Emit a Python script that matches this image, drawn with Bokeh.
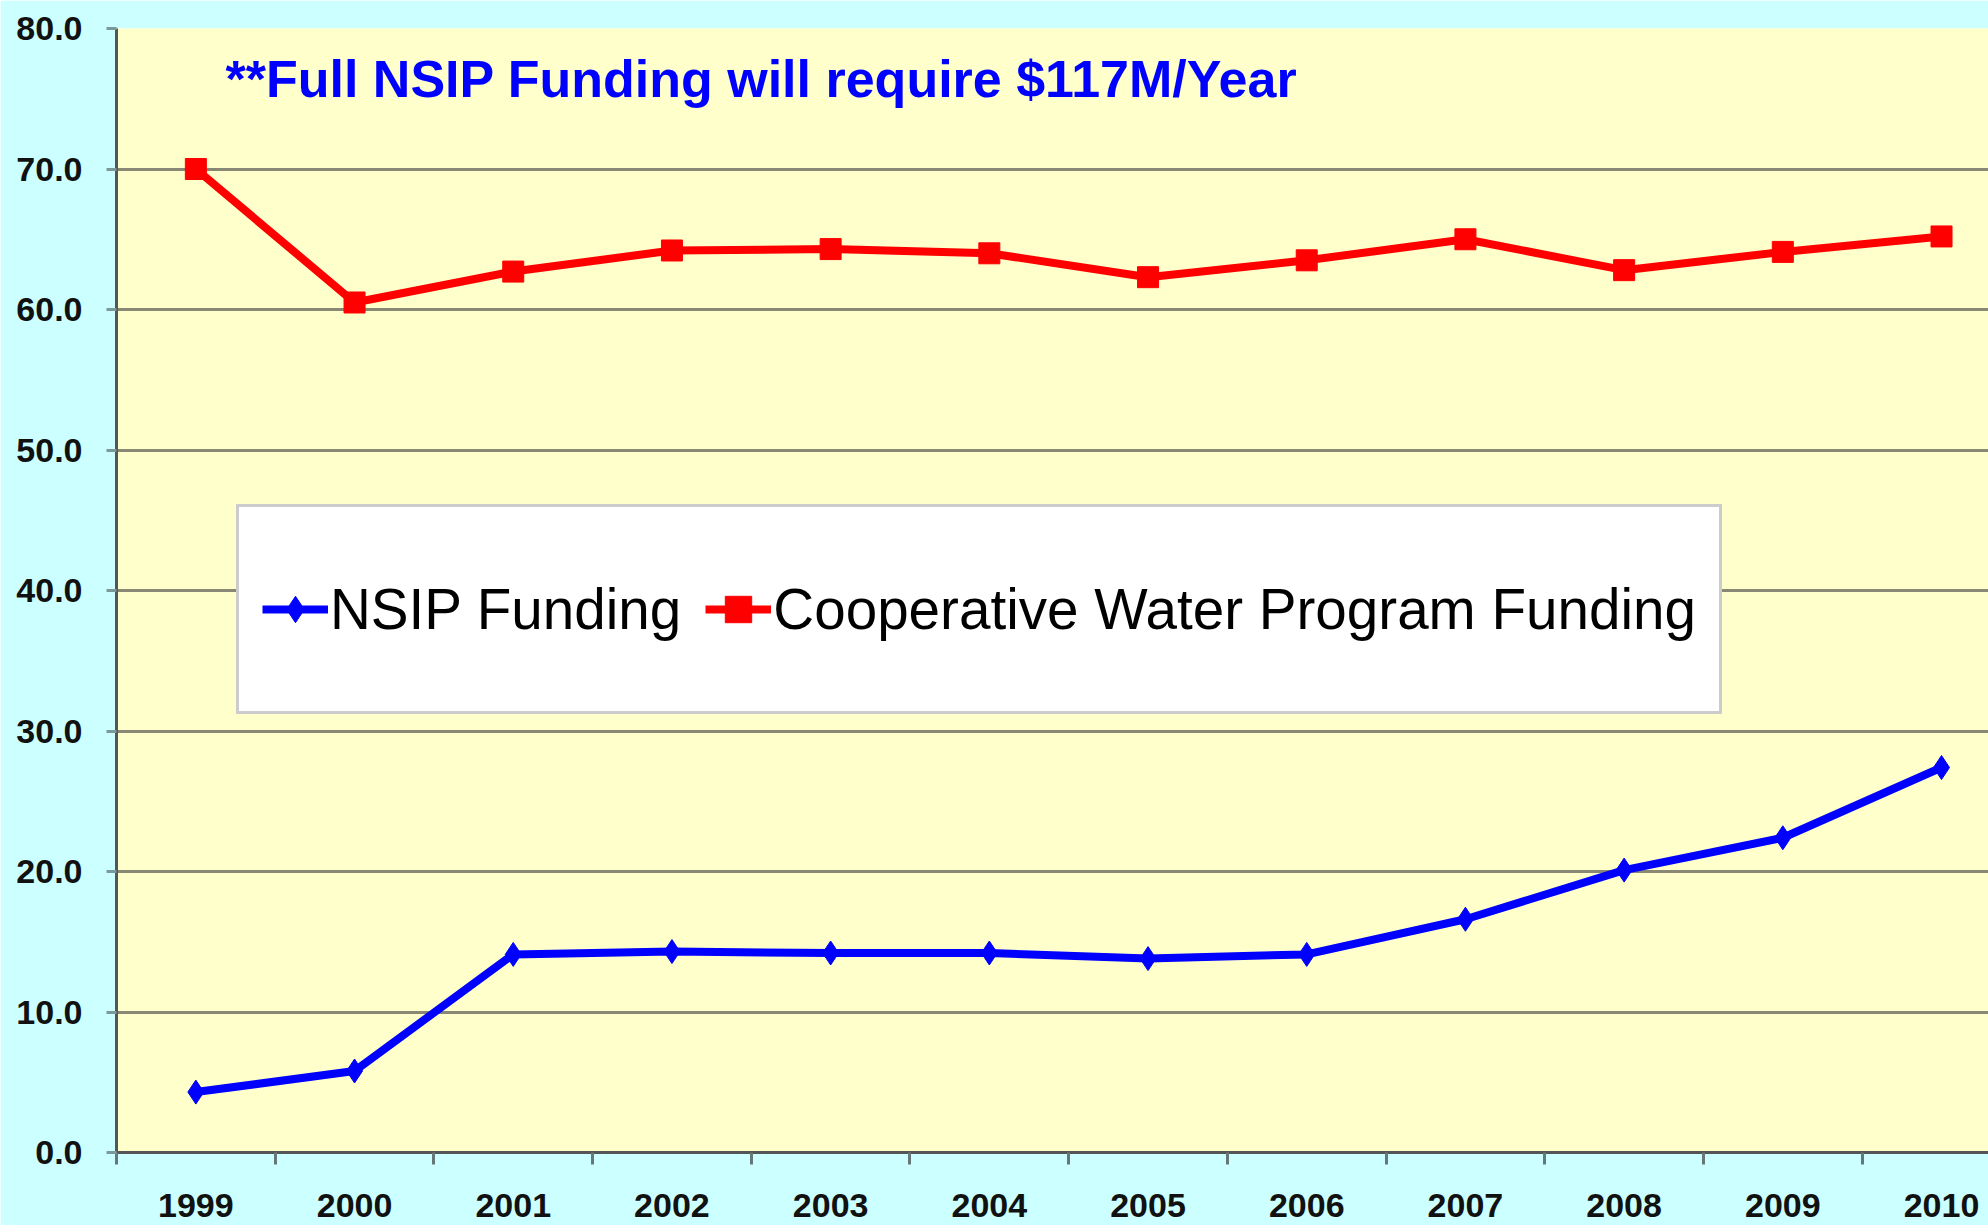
from bokeh.plotting import figure
from bokeh.models import FixedTicker, PrintfTickFormatter, Label, Range1d
from bokeh.embed import file_html
from bokeh.resources import INLINE

years = [1999, 2000, 2001, 2002, 2003, 2004, 2005, 2006, 2007, 2008, 2009, 2010]
year_labels = [str(y) for y in years]
nsip = [4.3, 5.8, 14.1, 14.3, 14.2, 14.2, 13.8, 14.1, 16.6, 20.1, 22.4, 27.4]
coop = [70.0, 60.5, 62.7, 64.2, 64.3, 64.0, 62.3, 63.5, 65.0, 62.8, 64.1, 65.2]
y_ticks = [0, 10, 20, 30, 40, 50, 60, 70, 80]
note_text = "**Full NSIP Funding will require $117M/Year"

FONT = "Liberation Sans"

p = figure(width=1988, height=1225,
           x_range=Range1d(1998.5, 2010.296), y_range=Range1d(0, 80),
           output_backend="svg", toolbar_location=None,
           min_border_left=116, min_border_right=0,
           min_border_top=28, min_border_bottom=73,
           background_fill_color="#FFFFCC", border_fill_color="#CCFFFF",
           outline_line_color=None)

p.line(years, nsip, line_color="#0000FF", line_width=8, legend_label="NSIP Funding")
p.scatter(years, nsip, marker="diamond", size=24, color="#0000FF", legend_label="NSIP Funding")
p.line(years, coop, line_color="#FF0000", line_width=8, legend_label="Cooperative Water Program Funding")
p.scatter(years, coop, marker="square", size=21, color="#FF0000", legend_label="Cooperative Water Program Funding")

# x axis: labels at centers, tick marks at category boundaries
bounds = [y - 0.5 for y in years] + [years[-1] + 0.5]
p.xaxis.ticker = FixedTicker(ticks=years, minor_ticks=bounds)
p.xaxis.major_label_overrides = {y: l for y, l in zip(years, year_labels)}
p.xaxis.major_tick_out = 0
p.xaxis.major_tick_in = 0
p.xaxis.minor_tick_out = 12
p.xaxis.minor_tick_in = 0
p.xaxis.minor_tick_line_color = "#667777"
p.xaxis.minor_tick_line_width = 3
p.xaxis.axis_line_color = "#555555"
p.xaxis.axis_line_width = 3
p.xaxis.major_label_standoff = 29
p.xaxis.major_label_text_font = FONT
p.xaxis.major_label_text_font_style = "bold"
p.xaxis.major_label_text_font_size = "34px"
p.xaxis.major_label_text_color = "#111111"
p.xgrid.visible = False

# y axis
p.yaxis.ticker = FixedTicker(ticks=y_ticks)
p.yaxis.formatter = PrintfTickFormatter(format="%.1f")
p.yaxis.major_tick_out = 10
p.yaxis.major_tick_in = 0
p.yaxis.minor_tick_out = 0
p.yaxis.minor_tick_in = 0
p.yaxis.major_tick_line_color = "#7a9a9a"
p.yaxis.major_tick_line_width = 3
p.yaxis.axis_line_color = "#555555"
p.yaxis.axis_line_width = 3
p.yaxis.major_label_standoff = 24
p.yaxis.major_label_text_font = FONT
p.yaxis.major_label_text_font_style = "bold"
p.yaxis.major_label_text_font_size = "34px"
p.yaxis.major_label_text_color = "#111111"
p.ygrid.grid_line_color = "#888874"
p.ygrid.grid_line_width = 3

# note
p.add_layout(Label(x=1999.187, y=76.4, text=note_text,
                   text_font=FONT, text_font_style="bold", text_font_size="52px",
                   text_color="#0000FF", text_baseline="alphabetic", text_align="left"))

# legend
lg = p.legend[0]
lg.orientation = "horizontal"
lg.location = (120, 438)
lg.margin = 0
lg.padding = 23
lg.spacing = 24
lg.glyph_width = 66
lg.glyph_height = 158
lg.label_height = 158
lg.label_standoff = 2
lg.label_text_font = FONT
lg.label_text_font_size = "56.6px"
lg.label_text_color = "#000000"
lg.background_fill_color = "#FFFFFF"
lg.background_fill_alpha = 1.0
lg.border_line_color = "#999999"
lg.border_line_width = 3

open("out.html", "w").write(file_html(p, INLINE))
